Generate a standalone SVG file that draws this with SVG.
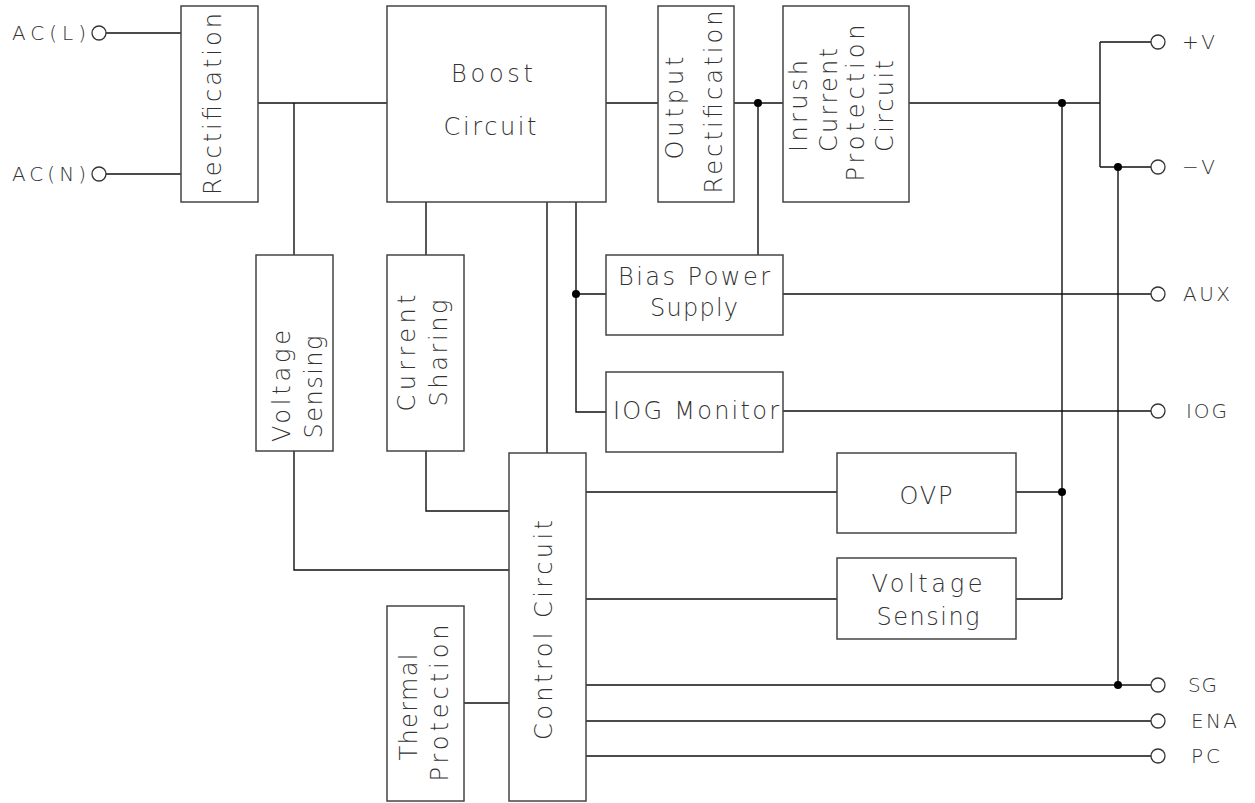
<svg xmlns="http://www.w3.org/2000/svg" width="1255" height="803" viewBox="0 0 1255 803">
<style>
.box{fill:#fff;stroke:#444;stroke-width:1.5}
.w{fill:none;stroke:#111;stroke-width:1.4}
.t{font-family:"DejaVu Sans","Liberation Sans",sans-serif;font-weight:200;font-size:24px;fill:#333;text-anchor:middle}
.l{font-family:"DejaVu Sans","Liberation Sans",sans-serif;font-weight:200;font-size:20px;fill:#333}
.term{fill:#fff;stroke:#333;stroke-width:1.3}
.dot{fill:#000}
</style>
<rect width="1255" height="803" fill="#fff"/>
<g id="connectors">
<path class="w" d="M106 33H181M106 174H181"/>
<path class="w" d="M258 103H387M294 103V255M294 451V570H509"/>
<path class="w" d="M426 202V255M426 451V511H509"/>
<path class="w" d="M547 202V453"/>
<path class="w" d="M576 202V412H606M576 294H606"/>
<path class="w" d="M606 103H658M734 103H783M758 103V255"/>
<path class="w" d="M909 103H1100M1062 103V599M1100 42V167M1100 42H1151M1100 167H1151M1118 167V685"/>
<path class="w" d="M783 294H1151M783 411H1151"/>
<path class="w" d="M586 492H837M1016 492H1062M586 599H837M1016 599H1062"/>
<path class="w" d="M586 685H1151M586 721H1151M586 756H1151"/>
<path class="w" d="M464 703H509"/>
<circle class="dot" cx="758" cy="103" r="4"/>
<circle class="dot" cx="1062" cy="103" r="4"/>
<circle class="dot" cx="1118" cy="167" r="4"/>
<circle class="dot" cx="576" cy="294" r="4"/>
<circle class="dot" cx="1062" cy="492" r="4"/>
<circle class="dot" cx="1118" cy="685" r="4"/>
</g>
<g id="terminals">
<g id="t-acl"><circle class="term" cx="99" cy="33" r="7"/><text class="l" x="12" y="40" textLength="74" lengthAdjust="spacing">AC(L)</text></g>
<g id="t-acn"><circle class="term" cx="99" cy="174" r="7"/><text class="l" x="12" y="181" textLength="74" lengthAdjust="spacing">AC(N)</text></g>
<g id="t-pv"><circle class="term" cx="1158" cy="42" r="7"/><text class="l" x="1182" y="49" textLength="33" lengthAdjust="spacing">+V</text></g>
<g id="t-nv"><circle class="term" cx="1158" cy="167" r="7"/><text class="l" x="1182" y="174" textLength="33" lengthAdjust="spacing">−V</text></g>
<g id="t-aux"><circle class="term" cx="1158" cy="294" r="7"/><text class="l" x="1183" y="301" textLength="47" lengthAdjust="spacing">AUX</text></g>
<g id="t-iog"><circle class="term" cx="1158" cy="411" r="7"/><text class="l" x="1186" y="418" textLength="41" lengthAdjust="spacing">IOG</text></g>
<g id="t-sg"><circle class="term" cx="1158" cy="685" r="7"/><text class="l" x="1188" y="692" textLength="29" lengthAdjust="spacing">SG</text></g>
<g id="t-ena"><circle class="term" cx="1158" cy="721" r="7"/><text class="l" x="1191" y="728" textLength="46" lengthAdjust="spacing">ENA</text></g>
<g id="t-pc"><circle class="term" cx="1158" cy="756" r="7"/><text class="l" x="1191" y="763" textLength="29" lengthAdjust="spacing">PC</text></g>
</g>
<g id="rectification"><rect class="box" x="181" y="6" width="77" height="196"/>
<text class="t" transform="translate(221,104) rotate(-90)" textLength="182" lengthAdjust="spacing">Rectification</text></g>
<g id="boost"><rect class="box" x="387" y="6" width="219" height="196"/>
<text class="t" x="492" y="82" textLength="82" lengthAdjust="spacing">Boost</text>
<text class="t" x="490" y="135" textLength="93" lengthAdjust="spacing">Circuit</text></g>
<g id="output-rect"><rect class="box" x="658" y="6" width="76" height="196"/>
<text class="t" transform="translate(683,108) rotate(-90)" textLength="103" lengthAdjust="spacing">Output</text>
<text class="t" transform="translate(722,102) rotate(-90)" textLength="183" lengthAdjust="spacing">Rectification</text></g>
<g id="inrush"><rect class="box" x="783" y="6" width="126" height="196"/>
<text class="t" transform="translate(807,106) rotate(-90)" textLength="92" lengthAdjust="spacing">Inrush</text>
<text class="t" transform="translate(837,100) rotate(-90)" textLength="104" lengthAdjust="spacing">Current</text>
<text class="t" transform="translate(864,103) rotate(-90)" textLength="157" lengthAdjust="spacing">Protection</text>
<text class="t" transform="translate(893,106) rotate(-90)" textLength="92" lengthAdjust="spacing">Circuit</text></g>
<g id="voltage-sensing-1"><rect class="box" x="256" y="255" width="77" height="196"/>
<text class="t" transform="translate(290,386) rotate(-90)" textLength="112" lengthAdjust="spacing">Voltage</text>
<text class="t" transform="translate(322,387) rotate(-90)" textLength="103" lengthAdjust="spacing">Sensing</text></g>
<g id="current-sharing"><rect class="box" x="387" y="255" width="77" height="196"/>
<text class="t" transform="translate(415,353) rotate(-90)" textLength="117" lengthAdjust="spacing">Current</text>
<text class="t" transform="translate(447,353) rotate(-90)" textLength="107" lengthAdjust="spacing">Sharing</text></g>
<g id="bias"><rect class="box" x="606" y="255" width="177" height="80"/>
<text class="t" x="694" y="285" textLength="152" lengthAdjust="spacing">Bias Power</text>
<text class="t" x="694" y="316" textLength="88" lengthAdjust="spacing">Supply</text></g>
<g id="iog-monitor"><rect class="box" x="606" y="372" width="177" height="80"/>
<text class="t" x="696" y="419" textLength="166" lengthAdjust="spacing">IOG Monitor</text></g>
<g id="control"><rect class="box" x="509" y="453" width="77" height="348"/>
<text class="t" transform="translate(552,630) rotate(-90)" textLength="220" lengthAdjust="spacing">Control Circuit</text></g>
<g id="ovp"><rect class="box" x="837" y="453" width="179" height="80"/>
<text class="t" x="926" y="504" textLength="53" lengthAdjust="spacing">OVP</text></g>
<g id="voltage-sensing-2"><rect class="box" x="837" y="558" width="179" height="81"/>
<text class="t" x="927" y="592" textLength="111" lengthAdjust="spacing">Voltage</text>
<text class="t" x="928" y="625" textLength="103" lengthAdjust="spacing">Sensing</text></g>
<g id="thermal"><rect class="box" x="387" y="606" width="77" height="195"/>
<text class="t" transform="translate(417,707) rotate(-90)" textLength="107" lengthAdjust="spacing">Thermal</text>
<text class="t" transform="translate(448,703) rotate(-90)" textLength="157" lengthAdjust="spacing">Protection</text></g>
</svg>
